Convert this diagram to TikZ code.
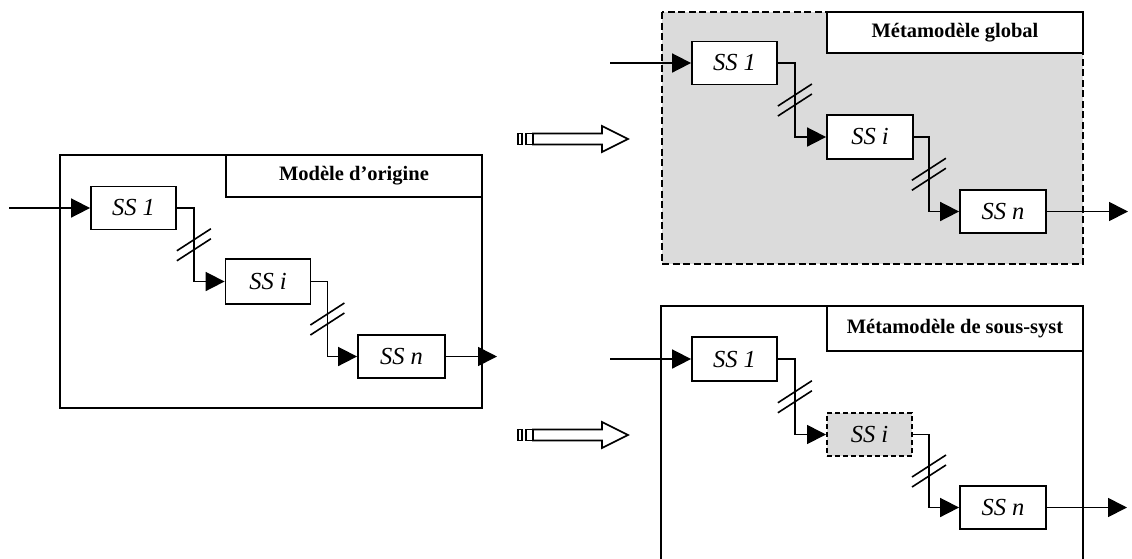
\documentclass[tikz,border=0pt]{standalone}
\usepackage{fontspec}
\setmainfont{Liberation Serif}
\usetikzlibrary{arrows.meta,calc}
\begin{document}
\begin{tikzpicture}[x=1pt,y=-1pt,
  ssbox/.style={draw, line width=1.8pt, fill=white, minimum width=85pt, minimum height=43pt, inner sep=0pt, font=\fontsize{24.5}{26}\selectfont\itshape},
  ghostbox/.style={ssbox, fill=gray!28, dash pattern=on 5pt off 3pt, line width=2pt},
  titlebox/.style={draw, line width=1.8pt, fill=white, inner sep=0pt, minimum width=256pt, font=\fontsize{20.5}{22}\selectfont\bfseries},
  frame/.style={line width=1.8pt},
  conn/.style={line width=1.7pt},
  arr/.style={conn, -{Triangle[length=19pt,width=19pt]}},
  brk/.style={line width=1.6pt},
  hollow/.style={line width=1.7pt, fill=white},
]
\useasboundingbox (0,0) rectangle (1132,558);

% ---------- left: original model ----------
\draw[frame] (60,155) rectangle (482,408);
\node[titlebox, minimum height=42pt] (t1) at (354,176) {Modèle d’origine};
\node[ssbox] (a1) at (133.5,208) {SS 1};
\node[ssbox, minimum height=45pt] (a2) at (268,281.5) {SS i};
\node[ssbox, minimum width=87pt] (a3) at (401.5,356.5) {SS n};
\coordinate (ain) at (9,208);
\coordinate (aout) at (497,356.5);

% ---------- top right: global metamodel ----------
\draw[line width=2.3pt, fill=gray!28, dash pattern=on 7pt off 3.5pt] (662,12) rectangle (1083,264);
\node[titlebox, minimum height=41pt] (t2) at (955,32.5) {Métamodèle global};
\node[ssbox] (b1) at (734.5,63) {SS 1};
\node[ssbox, minimum width=86pt, minimum height=44pt] (b2) at (870,137) {SS i};
\node[ssbox, minimum width=86pt] (b3) at (1003,211.5) {SS n};
\coordinate (bin) at (610,63);
\coordinate (bout) at (1128,211.5);

% ---------- bottom right: subsystem metamodel ----------
\draw[frame] (661,562) -- (661,306) -- (1083,306) -- (1083,562);
\node[titlebox, minimum height=45pt] (t3) at (955,328.5) {Métamodèle de sous-syst};
\node[ssbox, minimum height=44pt] (c1) at (734.5,359) {SS 1};
\node[ghostbox] (c2) at (869.5,434.5) {SS i};
\node[ssbox, minimum width=86pt] (c3) at (1003,507.5) {SS n};
\coordinate (cin) at (610,359);
\coordinate (cout) at (1127,507.5);

% ---------- connectors ----------
\foreach \p/\s/\o in {a/17/16, b/17/15, c/17/16}{
  \draw[arr] (\p in) -- (\p1);
  \draw[arr] (\p1.east) -- ++(\s,0) coordinate (\p va) |- (\p2.west);
  \coordinate (\p vb) at (\p va |- \p2.west);
  \draw[arr] (\p2.east) -- ++(\o,0) coordinate (\p wa) |- (\p3.west);
  \coordinate (\p wb) at (\p wa |- \p3.west);
  \draw[arr] (\p3.east) -- (\p out);
  \coordinate (\p m1) at ($(\p va)!0.5!(\p vb)$);
  \coordinate (\p m2) at ($(\p wa)!0.5!(\p wb)$);
  \foreach \m in {\p m1, \p m2}{
    \draw[brk] ($(\m)+(-17,6)$) -- ($(\m)+(17,-16)$);
    \draw[brk] ($(\m)+(-17,16)$) -- ($(\m)+(17,-6)$);
  }
}

% ---------- hollow transformation arrows ----------
\foreach \y in {139,435}{
  \draw[hollow] (518,\y-5.5) rectangle (522,\y+5.5);
  \draw[hollow] (526,\y-5.5) rectangle (533,\y+5.5);
  \draw[hollow] (533,\y-5.5) -- (602,\y-5.5) -- (602,\y-13) -- (628,\y) -- (602,\y+13) -- (602,\y+5.5) -- (533,\y+5.5) -- cycle;
}
\end{tikzpicture}
\end{document}
